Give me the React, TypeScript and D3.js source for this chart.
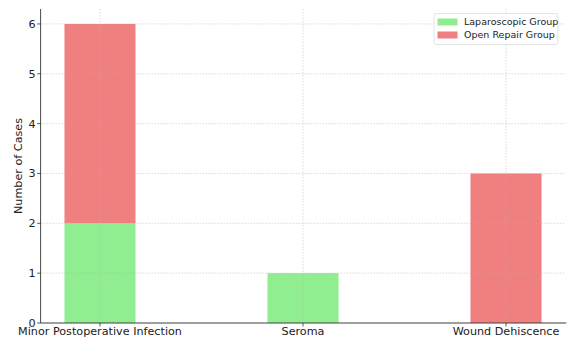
import React from "react";
import * as d3 from "d3";

const categories = ["Minor Postoperative Infection", "Seroma", "Wound Dehiscence"];
const laparoscopic = [2, 1, 0];
const openRepair = [4, 0, 3];
const yTicks = [0, 1, 2, 3, 4, 5, 6];
const seriesNames = ["Laparoscopic Group", "Open Repair Group"];

const W = 567;
const H = 339;
const colors = ["#90EE90", "#F08080"];

export default function App() {
  const left = 40.6;
  const right = 565.4;
  const top = 9;
  const bottom = 323;
  const x = d3.scaleLinear().domain([-0.2925, 2.2925]).range([left, right]);
  const y = d3.scaleLinear().domain([0, 6.3]).range([bottom, top]);
  const bw = 0.35;
  const font = "DejaVu Sans, sans-serif";
  const fs = 11.2;

  const stacks = categories.map((c, i) => ({
    c,
    i,
    segs: [
      { y0: 0, y1: laparoscopic[i], color: colors[0] },
      { y0: laparoscopic[i], y1: laparoscopic[i] + openRepair[i], color: colors[1] },
    ],
  }));

  return (
    <svg width={W} height={H} style={{ position: "absolute", left: 0, top: 0, background: "#fff" }}>
      {stacks.map((s) =>
        s.segs
          .filter((g) => g.y1 > g.y0)
          .map((g, k) => (
            <rect
              key={s.c + k}
              x={x(s.i - bw / 2)}
              width={x(bw) - x(0)}
              y={y(g.y1)}
              height={y(g.y0) - y(g.y1)}
              fill={g.color}
            />
          ))
      )}
      {yTicks.map((t) => (
        <line key={"gy" + t} x1={left} x2={right} y1={y(t)} y2={y(t)} stroke="#b0b0b0" strokeOpacity={0.6} strokeWidth={0.8} strokeDasharray="1.5,1.5" />
      ))}
      {categories.map((c, i) => (
        <line key={"gx" + c} x1={x(i)} x2={x(i)} y1={top} y2={bottom} stroke="#b0b0b0" strokeOpacity={0.6} strokeWidth={0.8} strokeDasharray="1.5,1.5" />
      ))}
      <line x1={left} x2={left} y1={top} y2={bottom} stroke="#333" strokeWidth={0.9} />
      <line x1={left} x2={right + 1} y1={bottom} y2={bottom} stroke="#333" strokeWidth={0.9} />
      {yTicks.map((t) => (
        <g key={"ty" + t}>
          <line x1={left - 3.5} x2={left} y1={y(t)} y2={y(t)} stroke="#333" strokeWidth={0.8} />
          <text x={left - 5} y={y(t)} dy="0.35em" textAnchor="end" fontFamily={font} fontSize={fs} fill="#222">
            {t}
          </text>
        </g>
      ))}
      {categories.map((c, i) => (
        <g key={"tx" + c}>
          <line x1={x(i)} x2={x(i)} y1={bottom} y2={bottom + 3.5} stroke="#333" strokeWidth={0.8} />
          <text x={x(i)} y={bottom + 3.5} dy="0.8em" textAnchor="middle" fontFamily={font} fontSize={fs} fill="#222">
            {c}
          </text>
        </g>
      ))}
      <text transform={`translate(22,${(top + bottom) / 2}) rotate(-90)`} textAnchor="middle" fontFamily={font} fontSize={fs} fill="#222">
        Number of Cases
      </text>
      <g>
        <rect x={434} y={13.5} width={124} height={31} rx={2} fill="#fff" fillOpacity={0.8} stroke="#ddd" strokeWidth={0.8} />
        {seriesNames.map((n, k) => (
          <g key={n}>
            <rect x={437.5} y={18.5 + k * 13} width={20} height={7} fill={colors[k]} />
            <text x={464} y={22 + k * 13} dy="0.35em" fontFamily={font} fontSize={9.5} fill="#222">
              {n}
            </text>
          </g>
        ))}
      </g>
    </svg>
  );
}
